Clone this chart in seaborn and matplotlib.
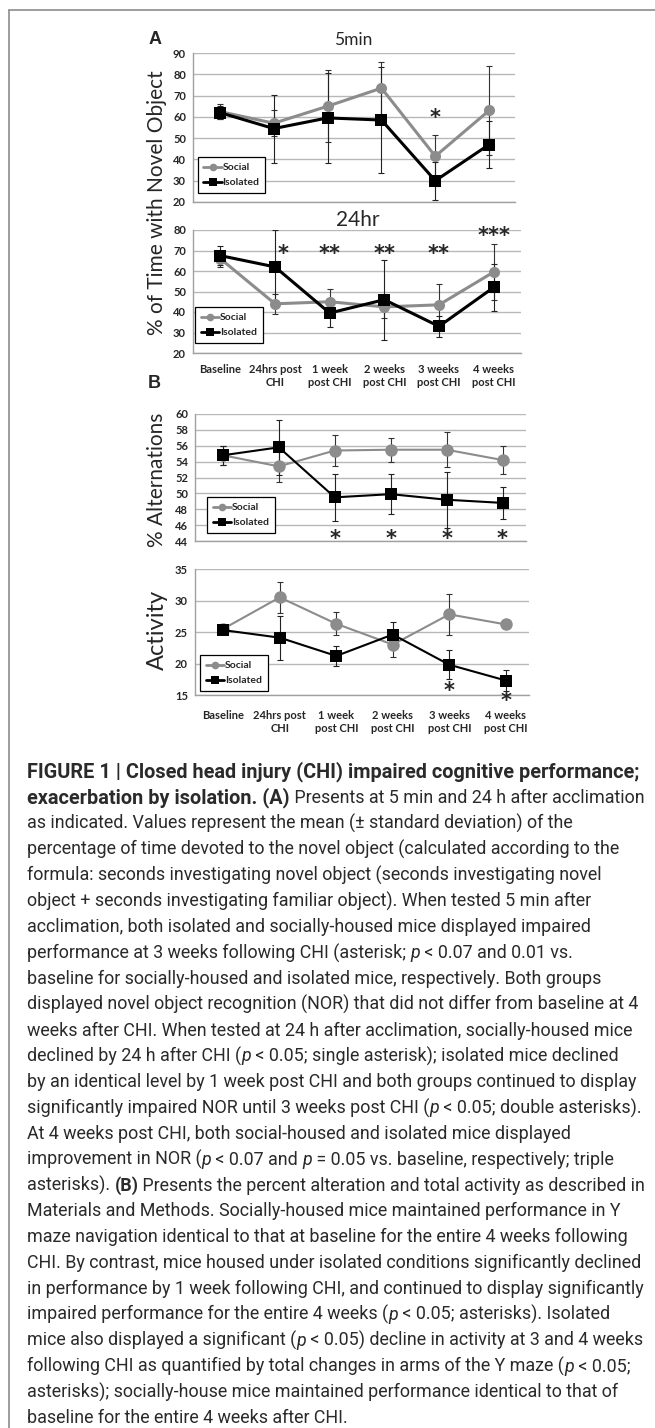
import re
import numpy as np
import pandas as pd
import matplotlib
matplotlib.use("Agg")
import matplotlib.pyplot as plt
from matplotlib.lines import Line2D
import seaborn as sns

# category labels
labels = ["Baseline", "24hrs post\nCHI", "1 week\npost CHI", "2 weeks\npost CHI",
          "3 weeks\npost CHI", "4 weeks\npost CHI"]

# A: novel object, 5 min
nor5_social = [62.5, 57, 65, 73.5, 41.5, 63]
nor5_social_sd = [3.5, 6, 17, 12.5, 10, 21]
nor5_isol = [62, 54.5, 59.5, 58.5, 30, 47]
nor5_isol_sd = [3, 16, 21, 25, 9, 11]

# A: novel object, 24 hr
nor24_social = [66, 44, 45, 42.5, 43.5, 59.5]
nor24_social_sd = [4, 5, 6, 5.5, 10, 13.5]
nor24_isol = [67.5, 62, 39.5, 46, 33, 52]
nor24_isol_sd = [4.5, 18, 7, 19.5, 5, 11.5]

# B: % alternations
alt_social = [54.8, 53.4, 55.4, 55.5, 55.5, 54.2]
alt_social_sd = [1.2, 2, 2, 1.5, 2.2, 1.8]
alt_isol = [54.8, 55.8, 49.5, 49.9, 49.2, 48.8]
alt_isol_sd = [1.2, 3.5, 3, 2.5, 3.5, 2]

# B: activity
act_social = [25.5, 30.5, 26.3, 23.0, 27.8, 26.2]
act_social_sd = [0.5, 2.5, 1.8, 2, 3.2, 0.3]
act_isol = [25.3, 24.1, 21.2, 24.6, 19.8, 17.3]
act_isol_sd = [0.5, 3.5, 1.6, 2, 2.3, 1.7]

# significance marks: (category index, y value, text)
stars_5min = [(4, 59.5, "*")]
stars_24hr = [(1.15, 68.5, "*"), (2, 68.5, "**"), (3, 68.5, "**"), (4, 68.5, "**"), (5, 77, "***")]
stars_alt = [(2, 44.3, "*"), (3, 44.3, "*"), (4, 44.3, "*"), (5, 44.3, "*")]
stars_act = [(4, 15.6, "*"), (5, 14.1, "*")]

caption = [
    "*FIGURE 1 | Closed head injury (CHI) impaired cognitive performance;*",
    "*exacerbation by isolation. (A)* Presents at 5 min and 24 h after acclimation",
    "as indicated. Values represent the mean (\u00b1 standard deviation) of the",
    "percentage of time devoted to the novel object (calculated according to the",
    "formula: seconds investigating novel object (seconds investigating novel",
    "object + seconds investigating familiar object). When tested 5 min after",
    "acclimation, both isolated and socially-housed mice displayed impaired",
    "performance at 3 weeks following CHI (asterisk; _p_ < 0.07 and 0.01 vs.",
    "baseline for socially-housed and isolated mice, respectively. Both groups",
    "displayed novel object recognition (NOR) that did not differ from baseline at 4",
    "weeks after CHI. When tested at 24 h after acclimation, socially-housed mice",
    "declined by 24 h after CHI (_p_ < 0.05; single asterisk); isolated mice declined",
    "by an identical level by 1 week post CHI and both groups continued to display",
    "significantly impaired NOR until 3 weeks post CHI (_p_ < 0.05; double asterisks).",
    "At 4 weeks post CHI, both social-housed and isolated mice displayed",
    "improvement in NOR (_p_ < 0.07 and _p_ = 0.05 vs. baseline, respectively; triple",
    "asterisks). *(B)* Presents the percent alteration and total activity as described in",
    "Materials and Methods. Socially-housed mice maintained performance in Y",
    "maze navigation identical to that at baseline for the entire 4 weeks following",
    "CHI. By contrast, mice housed under isolated conditions significantly declined",
    "in performance by 1 week following CHI, and continued to display significantly",
    "impaired performance for the entire 4 weeks (_p_ < 0.05; asterisks). Isolated",
    "mice also displayed a significant (_p_ < 0.05) decline in activity at 3 and 4 weeks",
    "following CHI as quantified by total changes in arms of the Y maze (_p_ < 0.05;",
    "asterisks); socially-house mice maintained performance identical to that of",
    "baseline for the entire 4 weeks after CHI.",
]

sns.set_style("white")
plt.rcParams['font.family'] = ['Lato', 'DejaVu Sans']

W, H = 655, 1428
GREY = '#8c8c8c'
fig = plt.figure(figsize=(W / 100, H / 100), dpi=100)


def px_axes(left, top, right, bottom):
    return fig.add_axes([left / W, 1 - bottom / H, (right - left) / W, (bottom - top) / H])


def draw_panel(ax, social, social_sd, isol, isol_sd, ylim, ystep, xmax, lw, ms,
               anchor, stars, label_pad=None):
    x = np.arange(len(labels))
    df = pd.DataFrame({
        'pos': np.r_[x, x],
        'value': social + isol,
        'group': ['Social'] * len(x) + ['Isolated'] * len(x),
    })
    ax.errorbar(x, social, yerr=social_sd, fmt='none', ecolor='#333333',
                elinewidth=0.8, capsize=2.2, capthick=0.8, zorder=1.5)
    ax.errorbar(x, isol, yerr=isol_sd, fmt='none', ecolor='#222222',
                elinewidth=0.8, capsize=2.2, capthick=0.8, zorder=1.6)
    sns.lineplot(data=df, x='pos', y='value', hue='group', style='group',
                 markers={'Social': 'o', 'Isolated': 's'}, dashes=False,
                 palette={'Social': GREY, 'Isolated': 'black'},
                 linewidth=lw, markersize=ms, markeredgewidth=0,
                 legend=False, ax=ax, zorder=3)

    ax.set_xlim(-0.5, xmax)
    ax.set_ylim(*ylim)
    ax.set_yticks(np.arange(ylim[0], ylim[1] + 0.1, ystep))
    ax.yaxis.grid(True, color='#b8b8b8', lw=1)
    ax.xaxis.grid(False)
    ax.set_axisbelow(True)
    for s in ['top', 'right']:
        ax.spines[s].set_visible(False)
    for s in ['left', 'bottom']:
        ax.spines[s].set_color('#a0a0a0')
        ax.spines[s].set_linewidth(1)
    ax.set_xticks(list(np.arange(-0.5, 5, 1)) + [xmax])
    ax.set_xticklabels([])
    ax.tick_params(axis='both', which='major', direction='out', length=3,
                   color='#a0a0a0', width=1, pad=2)
    for t in ax.get_yticklabels():
        t.set_fontsize(8)
        t.set_fontweight('bold')
    if label_pad is not None:
        ax.set_xticks(x, minor=True)
        ax.set_xticklabels(labels, minor=True, fontsize=8, fontweight='bold')
        ax.tick_params(axis='x', which='minor', length=0, pad=label_pad)
    ax.set_xlabel('')
    ax.set_ylabel('')

    for sx, sy, txt in stars:
        ax.text(sx, sy, txt, ha='center', va='center', fontsize=15, fontweight='bold',
                family='DejaVu Sans', clip_on=False, zorder=5)

    handles = [
        Line2D([], [], color=GREY, marker='o', lw=2, ms=5.5, mew=0, label='Social'),
        Line2D([], [], color='black', marker='s', lw=2, ms=5.5, mew=0, label='Isolated'),
    ]
    leg = ax.legend(handles=handles, loc='lower left', bbox_to_anchor=anchor,
                    prop={'size': 7.5, 'weight': 'bold'}, frameon=True, fancybox=False,
                    handlelength=1.8, handletextpad=0.05, borderpad=0.55,
                    labelspacing=0.55, borderaxespad=0)
    leg.get_frame().set_edgecolor('black')
    leg.get_frame().set_linewidth(0.9)
    leg.get_frame().set_alpha(1)


ax1 = px_axes(193, 53, 515, 202)
draw_panel(ax1, nor5_social, nor5_social_sd, nor5_isol, nor5_isol_sd, (20, 90), 10,
           5.48, 2.2, 8, (0.014, 0.06), stars_5min)
ax2 = px_axes(193, 230, 521, 353)
draw_panel(ax2, nor24_social, nor24_social_sd, nor24_isol, nor24_isol_sd, (20, 80), 10,
           5.5, 2.2, 8, (0.006, 0.08), stars_24hr, label_pad=8)
ax3 = px_axes(195, 414, 526, 541)
draw_panel(ax3, alt_social, alt_social_sd, alt_isol, alt_isol_sd, (44, 60), 2,
           5.42, 1.5, 9, (0.036, 0.063), stars_alt)
ax4 = px_axes(195, 569, 529, 695)
draw_panel(ax4, act_social, act_social_sd, act_isol, act_isol_sd, (15, 35), 5,
           5.41, 1.5, 9, (0.015, 0.03), stars_act, label_pad=11)

# panel titles and axis labels
fig.text(353 / W, 1 - 40 / H, "5min", ha='center', va='center', fontsize=12.5)
fig.text(358 / W, 1 - 220 / H, "24hr", ha='center', va='center', fontsize=15)
fig.text(155 / W, 1 - 40 / H, "A", ha='center', va='center', fontsize=13,
         fontweight='bold', family='Liberation Sans')
fig.text(154 / W, 1 - 383 / H, "B", ha='center', va='center', fontsize=13,
         fontweight='bold', family='Liberation Sans')
fig.text(157 / W, 1 - 203 / H, "% of Time with Novel Object", rotation=90,
         ha='center', va='center', fontsize=15)
fig.text(157 / W, 1 - 480 / H, "% Alternations", rotation=90,
         ha='center', va='center', fontsize=15)
fig.text(157 / W, 1 - 630 / H, "Activity", rotation=90,
         ha='center', va='center', fontsize=17)

# frame
fig.add_artist(Line2D([9 / W, 9 / W], [0, 1 - 10 / H], transform=fig.transFigure,
                      color='#8c8c8c', lw=1.2))
fig.add_artist(Line2D([9 / W, 1], [1 - 10 / H, 1 - 10 / H], transform=fig.transFigure,
                      color='#8c8c8c', lw=1.2))

# caption with mixed bold / italic runs
renderer = fig.canvas.get_renderer()
cap_kw = dict(family=['Roboto', 'DejaVu Sans'], color='#2a2a2a')


def text_width(s, weight, style, size):
    t1 = fig.text(0, 0, "|" + s + "|", fontweight=weight, fontstyle=style, fontsize=size, **cap_kw)
    t2 = fig.text(0, 0, "||", fontweight=weight, fontstyle=style, fontsize=size, **cap_kw)
    w = t1.get_window_extent(renderer).width - t2.get_window_extent(renderer).width
    t1.remove()
    t2.remove()
    return w


# size the caption so its widest lines span the same width as in the figure
widest = caption[13].replace('_', '')
cap_size = 10 * 616 / text_width(widest, 'normal', 'normal', 10)
bold_size = 10 * 614 / text_width(caption[0].replace('*', ''), 'bold', 'normal', 10)

for i, line in enumerate(caption):
    y = 772 + i * 25.85
    x = 27.0
    bold = italic = False
    for tok in re.split(r'(\*|_)', line):
        if tok == '*':
            bold = not bold
            continue
        if tok == '_':
            italic = not italic
            continue
        if not tok:
            continue
        weight = 'bold' if bold else 'normal'
        style = 'italic' if italic else 'normal'
        # the heading run (first two lines) is set a little wider
        size = bold_size if (bold and i < 2) else cap_size
        fig.text(x / W, 1 - y / H, tok, ha='left', va='center', fontsize=size,
                 fontweight=weight, fontstyle=style, **cap_kw)
        x += text_width(tok, weight, style, size)

fig.savefig("out.png", dpi=100)
